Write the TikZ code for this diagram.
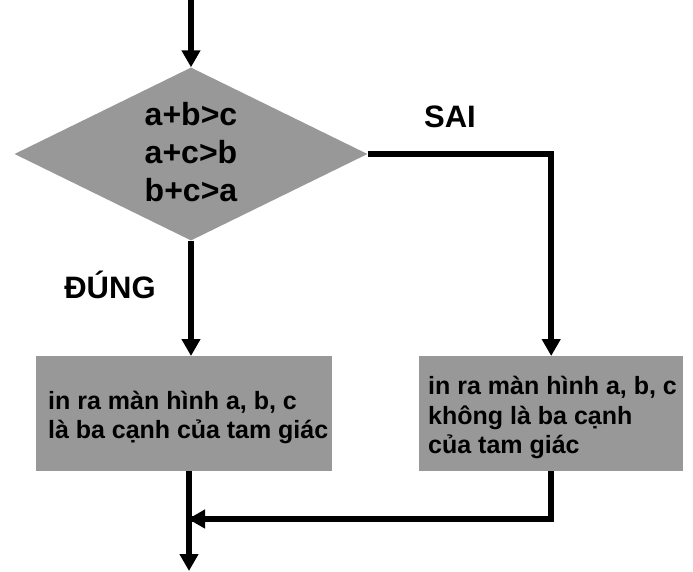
\documentclass[tikz,border=0pt]{standalone}
\usepackage{fontspec}
\setmainfont{Liberation Sans}
\usetikzlibrary{shapes.geometric,arrows.meta}
\definecolor{boxgray}{RGB}{152,152,152}
\newcommand{\proclines}[2]{\hspace*{#1}\parbox[c]{280pt}{#2}}
\begin{document}
\begin{tikzpicture}[
  x=1pt, y=-1pt,
  flow/.style={line width=5.5pt, -{Triangle[width=18pt,length=17pt]}},
  edge/.style={line width=5.5pt},
  cond/.style={diamond, fill=boxgray, inner sep=0pt, minimum width=353pt, minimum height=173pt},
  condtext/.style={align=center, font=\bfseries\fontsize{32}{38}\selectfont},
  proc/.style={rectangle, fill=boxgray, inner sep=0pt, anchor=north west,
    minimum width=#1, minimum height=115pt, font=\bfseries\fontsize{25}{29.5}\selectfont},
  branch/.style={font=\bfseries\fontsize{31}{33}\selectfont},
]
\useasboundingbox (0,0) rectangle (693,571);
% the test and its two branches
\node[cond] (test) at (191,154) {};
\node[condtext] (cases) at (191,152) {a+b>c\\a+c>b\\b+c>a};
\node[proc=296pt] (yes) at (36,356)
  {\proclines{12pt}{\vspace*{8pt}in ra màn hình a, b, c\\là ba cạnh của tam giác}\hspace*{4pt}};
\node[proc=264pt] (no) at (419,356)
  {\proclines{9pt}{\vspace*{8pt}in ra màn hình a, b, c\\không là ba cạnh\\của tam giác}\hspace*{-25pt}};

% branch labels
\node[branch] (ltrue)  at (110,285) {ĐÚNG};
\node[branch] (lfalse) at (450,117) {SAI};

% entry, exit and join points
\coordinate (in)   at (191,0);
\coordinate (out)  at (189,571);
\coordinate (join) at (189,519);

% connectors
\draw[flow] (in) -- (test.north);
\draw[flow] (test.south) -- (test.south |- yes.north);
\draw[flow] (test.east) -| (no.north);
\draw[edge] (no.south) |- (join);
\draw[flow] ([xshift=2pt]no.south |- join) -- ([xshift=-1pt]join);
\draw[flow] (yes.south -| join) -- (out);
\end{tikzpicture}
\end{document}
